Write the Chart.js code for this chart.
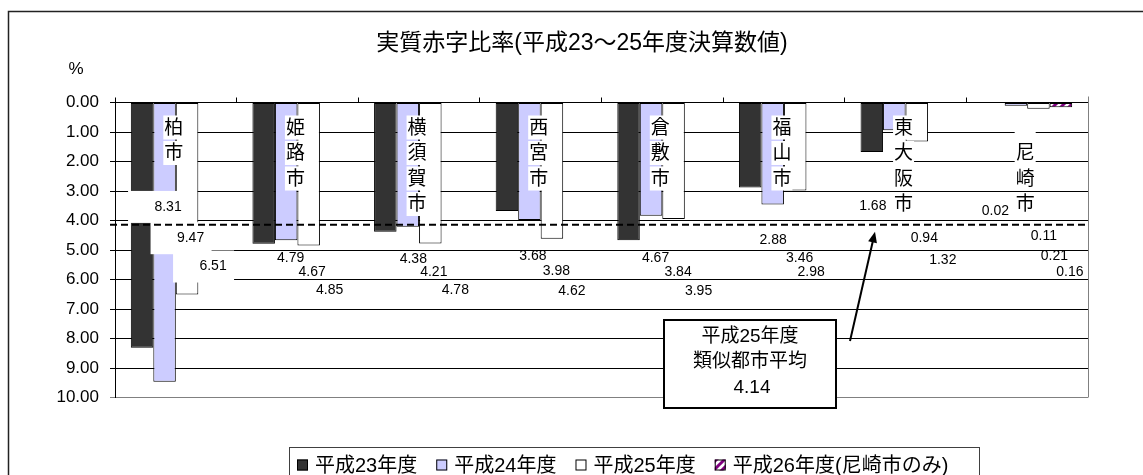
<!DOCTYPE html>
<html>
<head>
<meta charset="utf-8">
<script src="https://cdn.jsdelivr.net/npm/chart.js@4.4.0/dist/chart.umd.min.js"></script>
<style>
  html, body { margin: 0; padding: 0; background: #fff; }
  canvas { display: block; }
</style>
</head>
<body>
<canvas id="myChart" width="1143" height="475"></canvas>
<script>
const cities = ['柏市', '姫路市', '横須賀市', '西宮市', '倉敷市', '福山市', '東大阪市', '尼崎市'];
const h23 = [8.31, 4.79, 4.38, 3.68, 4.67, 2.88, 1.68, 0.02];
const h24 = [9.47, 4.67, 4.21, 3.98, 3.84, 3.46, 0.94, 0.11];
const h25 = [6.51, 4.85, 4.78, 4.62, 3.95, 2.98, 1.32, 0.21];
const h26 = [null, null, null, null, null, null, null, 0.16];
const seriesNames = ['平成23年度', '平成24年度', '平成25年度', '平成26年度(尼崎市のみ)'];
const yMin = 0, yMax = 10, yStep = 1;
const avgH25 = 4.14;
const avgNote = ['平成25年度', '類似都市平均'];

const titleText = '実質赤字比率(平成23～25年度決算数値)';
const FONT = '"Liberation Sans", "Noto Sans CJK JP", sans-serif';

// value label placement: [dx from bar centre in px, depth on the y axis]
const labelSpots = [
  [[26, 3.54], [26, 4.60], [26, 5.56]],
  [[27, 5.26], [26, 5.76], [21, 6.37]],
  [[28, 5.30], [26, 5.76], [25, 6.35]],
  [[26, 5.20], [27, 5.73], [20, 6.41]],
  [[27, 5.26], [27, 5.74], [25, 6.38]],
  [[23, 4.68], [27, 5.26], [16, 5.76]],
  [[1, 3.50], [30, 4.59], [26, 5.33]],
  [[2, 3.69], [28, 4.52], [16, 5.22], [9, 5.76]]
];
const boxedLabels = [0];              // categories whose labels sit on white boxes
const nameLead = [0, 0, 0, 0, 0, 0, 0, 1]; // empty cells above the vertical name

function stripes() {
  const c = document.createElement('canvas');
  c.width = c.height = 8;
  const g = c.getContext('2d');
  g.fillStyle = '#fff';
  g.fillRect(0, 0, 8, 8);
  g.strokeStyle = '#800080';
  g.lineWidth = 3;
  g.beginPath();
  g.moveTo(-2, 10); g.lineTo(10, -2);
  g.moveTo(-2, 2); g.lineTo(2, -2);
  g.moveTo(6, 10); g.lineTo(10, 6);
  g.stroke();
  return g.createPattern(c, 'repeat');
}
const hatch = stripes();
const fills = ['#333333', '#CCCCFF', '#FFFFFF', hatch];

const decor = {
  id: 'decor',
  beforeDraw(chart) {
    const { ctx } = chart;
    ctx.save();
    ctx.fillStyle = '#fff';
    ctx.fillRect(0, 0, chart.width, chart.height);
    ctx.restore();
  },
  afterDatasetsDraw(chart) {
    const { ctx, chartArea } = chart;
    const x = chart.scales.x, y = chart.scales.y;
    ctx.save();
    ctx.textAlign = 'center';
    ctx.textBaseline = 'middle';

    // city names, written downwards, one white cell per character
    ctx.font = '19px ' + FONT;
    cities.forEach((name, i) => {
      const cx = x.getPixelForValue(i) - 2;
      const cells = new Array(nameLead[i]).fill('').concat([...name]);
      cells.forEach((ch, k) => {
        const cy = chartArea.top + 25 + k * 25.5;
        ctx.fillStyle = '#fff';
        ctx.fillRect(cx - 10.5, cy - 12, 21, 24);
        ctx.fillStyle = '#000';
        ctx.fillText(ch, cx, cy + 1);
      });
    });

    // value labels
    ctx.font = '14px ' + FONT;
    chart.data.datasets.forEach((ds, di) => {
      const meta = chart.getDatasetMeta(di);
      meta.data.forEach((bar, j) => {
        const v = ds.data[j];
        if (v == null) return;
        const [dx, depth] = labelSpots[j][di];
        const lx = bar.x + dx;
        const ly = y.getPixelForValue(depth);
        if (boxedLabels.includes(j)) {
          ctx.fillStyle = '#fff';
          ctx.fillRect(lx - 40, ly - 16, 61, 32);
        }
        ctx.fillStyle = '#000';
        ctx.fillText(v.toFixed(2), lx, ly);
      });
    });
    ctx.restore();
  },
  afterDraw(chart) {
    const { ctx, chartArea } = chart;
    const y = chart.scales.y;
    ctx.save();

    // outer frame
    ctx.strokeStyle = '#222';
    ctx.lineWidth = 1.5;
    ctx.strokeRect(8.5, 11.5, chart.width + 20, chart.height + 20);

    // title and unit
    ctx.fillStyle = '#000';
    ctx.textAlign = 'center';
    ctx.textBaseline = 'middle';
    ctx.font = '23px ' + FONT;
    ctx.fillText(titleText, 582, 44);
    ctx.font = '17px ' + FONT;
    ctx.fillText('%', 76, 69);

    // right edge of the plot
    ctx.strokeStyle = '#808080';
    ctx.lineWidth = 1;
    ctx.beginPath();
    ctx.moveTo(chartArea.right + 0.5, chartArea.top - 6);
    ctx.lineTo(chartArea.right + 0.5, chartArea.bottom);
    ctx.stroke();

    // average line
    const ay = y.getPixelForValue(avgH25);
    ctx.strokeStyle = '#000';
    ctx.lineWidth = 2;
    ctx.setLineDash([7, 4]);
    ctx.beginPath();
    ctx.moveTo(chartArea.left - 5, ay);
    ctx.lineTo(chartArea.right, ay);
    ctx.stroke();
    ctx.setLineDash([]);

    // arrow from the note up to the line
    const tipX = 875, tipY = ay + 7, tailX = 850, tailY = 341;
    const ang = Math.atan2(tipY - tailY, tipX - tailX);
    ctx.beginPath();
    ctx.moveTo(tailX, tailY);
    ctx.lineTo(tipX - 8 * Math.cos(ang), tipY - 8 * Math.sin(ang));
    ctx.stroke();
    ctx.beginPath();
    ctx.moveTo(tipX, tipY);
    ctx.lineTo(tipX - 11 * Math.cos(ang) + 4.5 * Math.sin(ang), tipY - 11 * Math.sin(ang) - 4.5 * Math.cos(ang));
    ctx.lineTo(tipX - 11 * Math.cos(ang) - 4.5 * Math.sin(ang), tipY - 11 * Math.sin(ang) + 4.5 * Math.cos(ang));
    ctx.closePath();
    ctx.fillStyle = '#000';
    ctx.fill();

    // note box
    ctx.fillStyle = '#fff';
    ctx.fillRect(664, 320, 172, 88);
    ctx.lineWidth = 2;
    ctx.strokeRect(664, 320, 172, 88);
    ctx.fillStyle = '#000';
    ctx.font = '19px ' + FONT;
    ctx.fillText(avgNote[0], 750, 337);
    ctx.fillText(avgNote[1], 750, 362);
    ctx.fillText(avgH25.toFixed(2), 752, 388);

    // legend
    ctx.font = '20px ' + FONT;
    ctx.textAlign = 'left';
    ctx.strokeStyle = '#404040';
    ctx.lineWidth = 1;
    ctx.strokeRect(289.5, 447.5, 690, 40);
    let lx = 297;
    const ly = 465;
    seriesNames.forEach((name, i) => {
      ctx.fillStyle = fills[i];
      ctx.fillRect(lx, ly - 5.5, 11, 11);
      ctx.strokeStyle = '#000';
      ctx.strokeRect(lx + 0.5, ly - 5, 10, 10);
      ctx.fillStyle = '#000';
      ctx.fillText(name, lx + 18, ly + 1);
      lx += 18 + ctx.measureText(name).width + 19;
    });
    ctx.restore();
  }
};

new Chart(document.getElementById('myChart'), {
  type: 'bar',
  data: {
    labels: cities,
    datasets: [h23, h24, h25, h26].map((d, i) => ({
      label: seriesNames[i],
      data: d,
      backgroundColor: fills[i],
      borderColor: '#000',
      borderWidth: 1,
      borderSkipped: false,
      barPercentage: 1.0,
      categoryPercentage: 0.74
    }))
  },
  options: {
    responsive: false,
    animation: false,
    devicePixelRatio: 1,
    layout: { padding: { left: 0, top: 102.5, right: 55, bottom: 77.5 } },
    plugins: {
      legend: { display: false },
      title: { display: false },
      tooltip: { enabled: false }
    },
    scales: {
      x: {
        position: 'top',
        afterFit(s) { s.height = 0; },
        ticks: { display: false },
        grid: { drawOnChartArea: false, drawTicks: true, tickLength: 5, color: '#000' },
        border: { display: true, color: '#000', width: 1 }
      },
      y: {
        reverse: true,
        min: yMin,
        max: yMax,
        afterFit(s) { s.width = 115; },
        ticks: {
          stepSize: yStep,
          padding: 11,
          color: '#000',
          font: { family: FONT, size: 17 },
          callback: v => v.toFixed(2)
        },
        grid: {
          color: c => (c.tick && c.tick.value === yMax ? '#808080' : '#000'),
          tickLength: 5
        },
        border: { display: true, color: '#000', width: 1 }
      }
    }
  },
  plugins: [decor]
});
</script>
</body>
</html>
